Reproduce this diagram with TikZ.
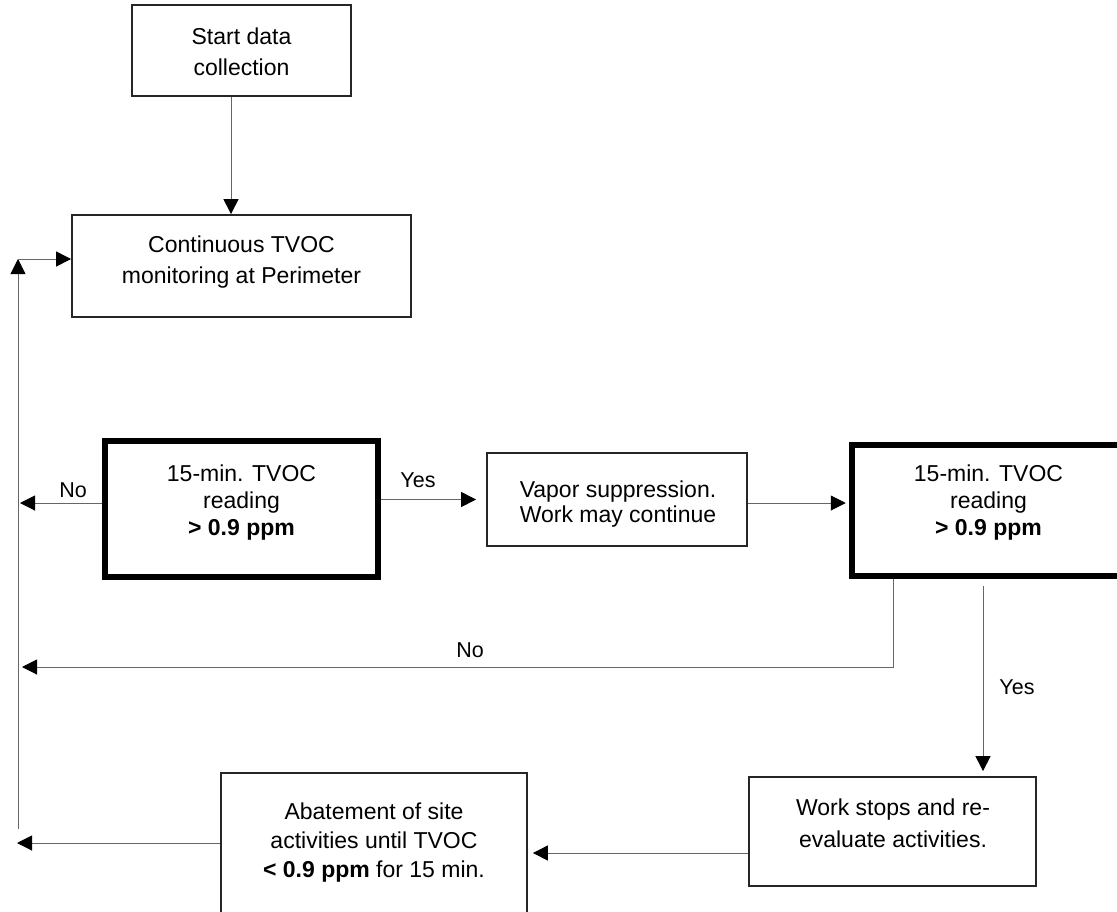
\documentclass[tikz,border=0pt]{standalone}
\usepackage{fontspec}
\setmainfont{Liberation Sans}
\usetikzlibrary{arrows.meta}
\begin{document}
\begin{tikzpicture}[x=1pt,y=-1pt,
  box/.style={draw=black!85, line width=1.8pt, inner sep=0pt, fill=white},
  heavybox/.style={draw=black, line width=6.5pt, inner sep=0pt, fill=white},
  txt/.style={align=center, inner sep=0pt, font=\fontsize{23}{#1}\selectfont},
  lbl/.style={inner sep=0pt, font=\fontsize{21.5}{26}\selectfont},
  arr/.style={draw=black!60, line width=1pt, -{Triangle[length=15pt,width=15pt,color=black]}},
  conn/.style={draw=black!60, line width=1pt}
]
\useasboundingbox (0,0) rectangle (1117,911);
\clip (0,0) rectangle (1117,911);

% boxes
\node[box, minimum width=219pt, minimum height=91pt] (start) at (241.5,50.5) {};
\node[txt=31] (start-t) at (241.5,52) {Start data\\collection};

\node[box, minimum width=339pt, minimum height=102pt] (cont) at (241.5,266) {};
\node[txt=31] (cont-t) at (241.5,262) {Continuous TVOC\\monitoring at Perimeter};

\node[heavybox, minimum width=273pt, minimum height=136pt] (dec1) at (241.5,509) {};
\node[txt=27] (dec1-t) at (241.5,503) {15-min. TVOC\\reading\\\textbf{> 0.9 ppm}};

\node[box, minimum width=260pt, minimum height=93pt] (vapor) at (617,499.5) {};
\node[txt=25] (vapor-t) at (618,504) {Vapor suppression.\\Work may continue};

\node[heavybox, minimum width=273pt, minimum height=131pt] (dec2) at (988.5,510.5) {};
\node[txt=27] (dec2-t) at (988.5,503) {15-min. TVOC\\reading\\\textbf{> 0.9 ppm}};

\node[box, minimum width=287pt, minimum height=109pt] (work) at (892.5,831.5) {};
\node[txt=32] (work-t) at (893,823) {Work stops and re-\\evaluate activities.};

\node[box, minimum width=306pt, minimum height=152pt] (abate) at (374,849) {};
\node[txt=29] (abate-t) at (374,843) {Abatement of site\\activities until TVOC\\\textbf{< 0.9 ppm} for 15 min.};

% helper coordinates
\coordinate (loopTop) at (18,259);
\coordinate (loopBot) at (18,829);
\coordinate (noTip1) at (20,503);
\coordinate (noCorner) at (893,667);
\coordinate (noTip2) at (22,667);
\coordinate (yesX) at (983,0);
\coordinate (abTip) at (17,843);

% connectors
\draw[arr] ([xshift=-10.5pt]start.south) -- ([xshift=-10.5pt]cont.north);
\draw[arr] (loopBot) -- (loopTop);
\draw[arr] (loopTop) -- (cont.west |- loopTop);

\draw[arr] (dec1.west |- noTip1) -- (noTip1);
\node[lbl] (no1) at (73,490) {No};

\draw[arr] (dec1.east |- vapor.west) -- ([xshift=-10pt]vapor.west);
\node[lbl] (yes1) at (418,480) {Yes};

\draw[arr] ([yshift=-3.5pt]vapor.east) coordinate (v1) -- ([xshift=-3pt]dec2.west |- v1);

\draw[arr] (dec2.south -| noCorner) -- (noCorner) -- (noTip2);
\node[lbl] (no2) at (470,650) {No};

\draw[arr] ([yshift=-7pt]dec2.south -| yesX) -- ([yshift=5pt]work.north -| yesX);
\node[lbl] (yes2) at (1017,687) {Yes};

\draw[arr] ([yshift=-21.5pt]work.west) coordinate (w1) -- ([xshift=5pt]abate.east |- w1);

\draw[arr] (abate.west |- abTip) -- (abTip);
\end{tikzpicture}
\end{document}
